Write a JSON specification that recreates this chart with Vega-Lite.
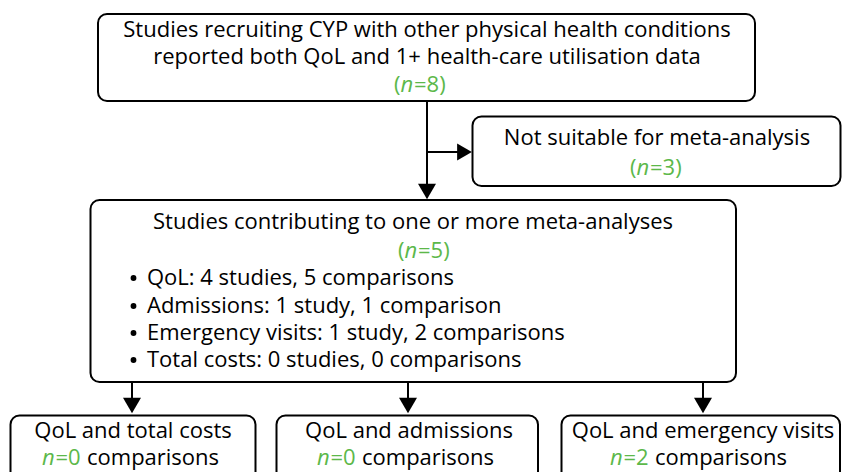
{
  "$schema": "https://vega.github.io/schema/vega-lite/v6.json",
  "width": 843,
  "height": 472,
  "padding": 0,
  "autosize": {"type": "fit", "contains": "padding"},
  "background": "white",
  "config": {"view": {"stroke": null}},
  "datasets": {
    "boxes": [
      {"id": "top", "x1": 98, "x2": 755, "y1": 14, "y2": 101},
      {"id": "excluded", "x1": 472.5, "x2": 840.5, "y1": 116.5, "y2": 186},
      {"id": "meta", "x1": 90.5, "x2": 736, "y1": 200, "y2": 382},
      {"id": "costs", "x1": 10.5, "x2": 255.5, "y1": 415.5, "y2": 490},
      {"id": "admissions", "x1": 276.5, "x2": 538, "y1": 415.5, "y2": 490},
      {"id": "emergency", "x1": 561.5, "x2": 840, "y1": 415.5, "y2": 490}
    ],
    "links": [
      {"x1": 427, "y1": 101, "x2": 427, "y2": 185},
      {"x1": 427, "y1": 152, "x2": 459, "y2": 152},
      {"x1": 132, "y1": 382, "x2": 132, "y2": 399},
      {"x1": 408, "y1": 382, "x2": 408, "y2": 399},
      {"x1": 703, "y1": 382, "x2": 703, "y2": 399}
    ],
    "heads": [
      {"x": 427, "y": 191.5, "dir": "down"},
      {"x": 464.5, "y": 152, "dir": "right"},
      {"x": 132, "y": 405.5, "dir": "down"},
      {"x": 408, "y": 405.5, "dir": "down"},
      {"x": 703, "y": 405.5, "dir": "down"}
    ],
    "bullets": [
      {"x": 133.5, "y": 278},
      {"x": 133.5, "y": 306},
      {"x": 133.5, "y": 333},
      {"x": 133.5, "y": 360}
    ],
    "labels": [
      {"t": "Studies recruiting CYP with other physical health conditions", "x": 427, "y": 37, "role": "c"},
      {"t": "reported both QoL and 1+ health-care utilisation data", "x": 427, "y": 64, "role": "c"},
      {"t": "(", "x": 394, "y": 92, "role": "g"},
      {"t": "n", "x": 400.5, "y": 92, "role": "gi"},
      {"t": "=8)", "x": 414, "y": 92, "role": "g"},
      {"t": "Not suitable for meta-analysis", "x": 657, "y": 145, "role": "c"},
      {"t": "(", "x": 630, "y": 175, "role": "g"},
      {"t": "n", "x": 636.5, "y": 175, "role": "gi"},
      {"t": "=3)", "x": 650, "y": 175, "role": "g"},
      {"t": "Studies contributing to one or more meta-analyses", "x": 413, "y": 229, "role": "c"},
      {"t": "(", "x": 398, "y": 258, "role": "g"},
      {"t": "n", "x": 404.5, "y": 258, "role": "gi"},
      {"t": "=5)", "x": 418, "y": 258, "role": "g"},
      {"t": "QoL: 4 studies, 5 comparisons", "x": 147, "y": 285, "role": "l"},
      {"t": "Admissions: 1 study, 1 comparison", "x": 147, "y": 313, "role": "l"},
      {"t": "Emergency visits: 1 study, 2 comparisons", "x": 147, "y": 340, "role": "l"},
      {"t": "Total costs: 0 studies, 0 comparisons", "x": 147, "y": 367, "role": "l"},
      {"t": "QoL and total costs", "x": 133, "y": 438, "role": "c"},
      {"t": "n", "x": 42, "y": 465, "role": "gi"},
      {"t": "=0", "x": 55.5, "y": 465, "role": "g"},
      {"t": "comparisons", "x": 87, "y": 465, "role": "l"},
      {"t": "QoL and admissions", "x": 409, "y": 438, "role": "c"},
      {"t": "n", "x": 317, "y": 465, "role": "gi"},
      {"t": "=0", "x": 330.5, "y": 465, "role": "g"},
      {"t": "comparisons", "x": 362, "y": 465, "role": "l"},
      {"t": "QoL and emergency visits", "x": 703, "y": 438, "role": "c"},
      {"t": "n", "x": 610, "y": 465, "role": "gi"},
      {"t": "=2", "x": 623.5, "y": 465, "role": "g"},
      {"t": "comparisons", "x": 655, "y": 465, "role": "l"}
    ]
  },
  "layer": [
    {
      "data": {"name": "links"},
      "mark": {"type": "rule", "color": "black", "strokeWidth": 2},
      "encoding": {
        "x": {"field": "x1", "type": "quantitative", "axis": null, "scale": {"domain": [0, 843], "nice": false, "zero": false}},
        "x2": {"field": "x2"},
        "y": {"field": "y1", "type": "quantitative", "axis": null, "scale": {"domain": [0, 472], "nice": false, "zero": false, "reverse": true}},
        "y2": {"field": "y2"}
      }
    },
    {
      "data": {"name": "boxes"},
      "mark": {"type": "rect", "fill": "white", "stroke": "black", "strokeWidth": 2, "cornerRadius": 9, "clip": true},
      "encoding": {
        "x": {"field": "x1", "type": "quantitative", "axis": null, "scale": {"domain": [0, 843], "nice": false, "zero": false}},
        "x2": {"field": "x2"},
        "y": {"field": "y1", "type": "quantitative", "axis": null, "scale": {"domain": [0, 472], "nice": false, "zero": false, "reverse": true}},
        "y2": {"field": "y2"}
      }
    },
    {
      "data": {"name": "heads"},
      "transform": [{"filter": "datum.dir === 'down'"}],
      "mark": {"type": "point", "shape": "triangle-down", "filled": true, "color": "black", "opacity": 1, "size": 324, "strokeWidth": 0},
      "encoding": {
        "x": {"field": "x", "type": "quantitative", "axis": null, "scale": {"domain": [0, 843], "nice": false, "zero": false}},
        "y": {"field": "y", "type": "quantitative", "axis": null, "scale": {"domain": [0, 472], "nice": false, "zero": false, "reverse": true}}
      }
    },
    {
      "data": {"name": "heads"},
      "transform": [{"filter": "datum.dir === 'right'"}],
      "mark": {"type": "point", "shape": "triangle-right", "filled": true, "color": "black", "opacity": 1, "size": 290, "strokeWidth": 0},
      "encoding": {
        "x": {"field": "x", "type": "quantitative", "axis": null, "scale": {"domain": [0, 843], "nice": false, "zero": false}},
        "y": {"field": "y", "type": "quantitative", "axis": null, "scale": {"domain": [0, 472], "nice": false, "zero": false, "reverse": true}}
      }
    },
    {
      "data": {"name": "bullets"},
      "mark": {"type": "circle", "color": "black", "opacity": 1, "size": 34},
      "encoding": {
        "x": {"field": "x", "type": "quantitative", "axis": null, "scale": {"domain": [0, 843], "nice": false, "zero": false}},
        "y": {"field": "y", "type": "quantitative", "axis": null, "scale": {"domain": [0, 472], "nice": false, "zero": false, "reverse": true}}
      }
    },
    {
      "data": {"name": "labels"},
      "transform": [{"filter": "datum.role === 'c'"}],
      "mark": {"type": "text", "align": "center", "baseline": "alphabetic", "font": "Open Sans", "fontSize": 22, "color": "black"},
      "encoding": {
        "x": {"field": "x", "type": "quantitative", "axis": null, "scale": {"domain": [0, 843], "nice": false, "zero": false}},
        "y": {"field": "y", "type": "quantitative", "axis": null, "scale": {"domain": [0, 472], "nice": false, "zero": false, "reverse": true}},
        "text": {"field": "t"}
      }
    },
    {
      "data": {"name": "labels"},
      "transform": [{"filter": "datum.role === 'l'"}],
      "mark": {"type": "text", "align": "left", "baseline": "alphabetic", "font": "Open Sans", "fontSize": 22, "color": "black"},
      "encoding": {
        "x": {"field": "x", "type": "quantitative", "axis": null, "scale": {"domain": [0, 843], "nice": false, "zero": false}},
        "y": {"field": "y", "type": "quantitative", "axis": null, "scale": {"domain": [0, 472], "nice": false, "zero": false, "reverse": true}},
        "text": {"field": "t"}
      }
    },
    {
      "data": {"name": "labels"},
      "transform": [{"filter": "datum.role === 'g'"}],
      "mark": {"type": "text", "align": "left", "baseline": "alphabetic", "font": "Open Sans", "fontSize": 22, "color": "#5cb84a"},
      "encoding": {
        "x": {"field": "x", "type": "quantitative", "axis": null, "scale": {"domain": [0, 843], "nice": false, "zero": false}},
        "y": {"field": "y", "type": "quantitative", "axis": null, "scale": {"domain": [0, 472], "nice": false, "zero": false, "reverse": true}},
        "text": {"field": "t"}
      }
    },
    {
      "data": {"name": "labels"},
      "transform": [{"filter": "datum.role === 'gi'"}],
      "mark": {"type": "text", "align": "left", "baseline": "alphabetic", "font": "Open Sans", "fontSize": 22, "fontStyle": "italic", "color": "#5cb84a"},
      "encoding": {
        "x": {"field": "x", "type": "quantitative", "axis": null, "scale": {"domain": [0, 843], "nice": false, "zero": false}},
        "y": {"field": "y", "type": "quantitative", "axis": null, "scale": {"domain": [0, 472], "nice": false, "zero": false, "reverse": true}},
        "text": {"field": "t"}
      }
    }
  ]
}
